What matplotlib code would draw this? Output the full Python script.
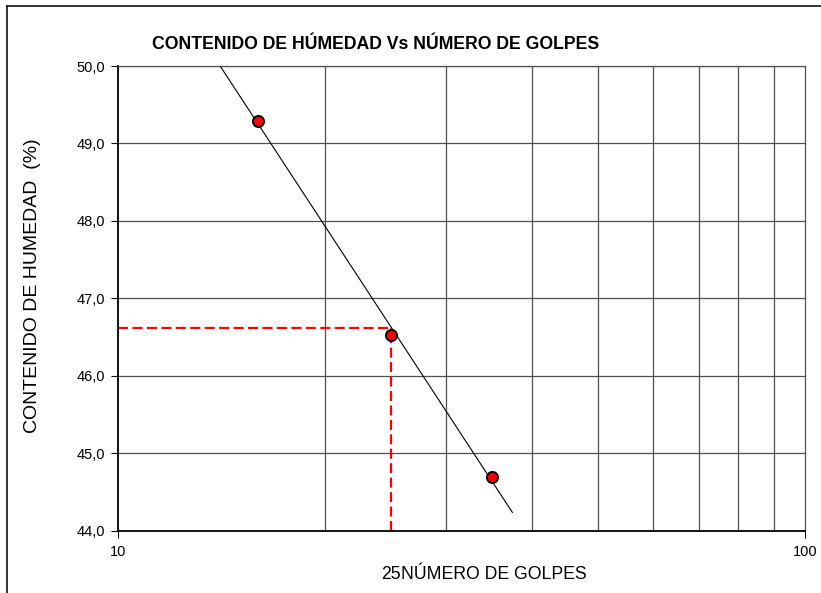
"""Curva de fluidez: contenido de humedad vs numero de golpes (limite liquido)."""
import matplotlib
matplotlib.use("Agg")
import matplotlib.pyplot as plt
from matplotlib.lines import Line2D
from matplotlib.ticker import FixedLocator, FuncFormatter, NullLocator
import numpy as np

plt.rcParams["font.family"] = ["Liberation Sans", "DejaVu Sans"]

# ensayos de Casagrande
golpes = [16, 25, 35]
humedad = [49.29, 46.53, 44.70]

golpes_ref = 25
trend_range = [14.08, 37.5]

y_ticks = [44, 45, 46, 47, 48, 49, 50]
x_grid = [20, 30, 40, 50, 60, 70, 80, 90]

# recta de fluidez (humedad vs log N)
slope, intercept = np.polyfit(np.log10(golpes), humedad, 1)
xs = np.array(trend_range)
ys = slope * np.log10(xs) + intercept
w_ref = slope * np.log10(golpes_ref) + intercept

fig = plt.figure(figsize=(8.21, 5.93), dpi=100)
ax = fig.add_axes([0.1437, 0.1046, 0.8368, 0.7841])

ax.set_xscale("log")
ax.set_xlim(10, 100)
ax.set_ylim(44, 50)

for gx in x_grid:
    ax.axvline(gx, color="#505050", lw=0.9, zorder=1)
for gy in y_ticks[1:]:
    ax.axhline(gy, color="#505050", lw=0.9, zorder=1)

ax.plot(xs, ys, color="black", lw=0.8, zorder=3)
dash = (0, (4.5, 2))
ax.plot([10, golpes_ref], [w_ref, w_ref], color="red", lw=1.6, ls=dash, zorder=2)
ax.plot([golpes_ref, golpes_ref], [44, w_ref], color="red", lw=1.6, ls=dash, zorder=2)
ax.plot(golpes, humedad, ls="none", marker="o", ms=8, mfc="red", mec="black", mew=1.4, zorder=4)

ax.xaxis.set_major_locator(FixedLocator([10, 100]))
ax.xaxis.set_minor_locator(NullLocator())
ax.xaxis.set_major_formatter(FuncFormatter(lambda v, p: f"{v:.0f}"))
ax.yaxis.set_major_locator(FixedLocator(y_ticks))
ax.yaxis.set_major_formatter(FuncFormatter(lambda v, p: f"{v:.1f}".replace(".", ",")))
ax.tick_params(axis="both", direction="out", length=5, width=0.8, labelsize=10.5, pad=4)
ax.tick_params(axis="x", pad=5)

for side in ["top", "right"]:
    ax.spines[side].set_color("#505050")
    ax.spines[side].set_linewidth(0.9)
for side in ["left", "bottom"]:
    ax.spines[side].set_color("black")
    ax.spines[side].set_linewidth(1.3)

fig.text(0.039, 0.518, "CONTENIDO DE HUMEDAD  (%)", fontsize=14, rotation=90,
         ha="center", va="center")
fig.text(0.4884, 0.0236, "NÚMERO DE GOLPES", fontsize=12.7, ha="left", va="baseline")
fig.text(0.4884, 0.0236, f"{golpes_ref}", fontsize=12.7, ha="right", va="baseline")
fig.text(0.4574, 0.925, "CONTENIDO DE HÚMEDAD Vs NÚMERO DE GOLPES",
         fontsize=12.7, fontweight="bold", ha="center", va="center")

# marco exterior
fig.add_artist(Line2D([0.0085, 0.0085], [0, 0.99], transform=fig.transFigure, color="#222222", lw=1.3))
fig.add_artist(Line2D([0.0085, 1.0], [0.99, 0.99], transform=fig.transFigure, color="#222222", lw=1.3))

fig.savefig("out.png", dpi=100)
